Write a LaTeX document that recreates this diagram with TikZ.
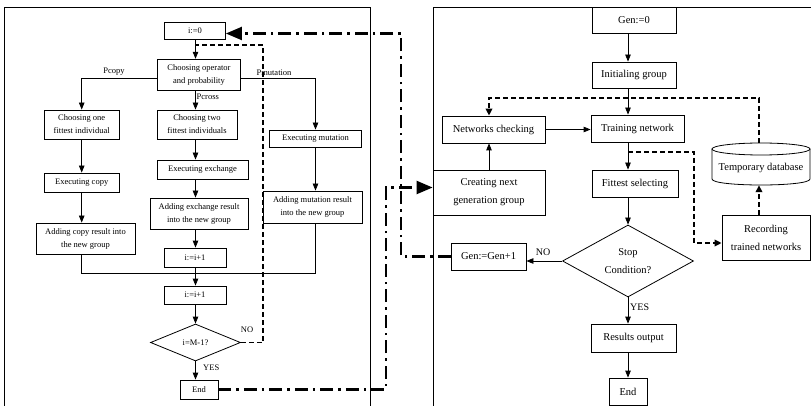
\documentclass[tikz,border=0pt]{standalone}
\usepackage{fontspec}
\setmainfont{Liberation Serif}
\usetikzlibrary{arrows.meta,shapes.geometric}

\begin{document}
\begin{tikzpicture}[x=1pt,y=-1pt,
  every node/.style={inner sep=0pt},
  lbox/.style={draw, line width=0.8pt, align=center, font=\fontsize{8.5}{13}\selectfont},
  rbox/.style={draw, line width=0.8pt, align=center, font=\fontsize{10.5}{18}\selectfont},
  lbl/.style={font=\fontsize{8.5}{10}\selectfont},
  rlbl/.style={font=\fontsize{10}{12}\selectfont},
  flow/.style={line width=0.8pt, -{Triangle[length=7pt,width=5.5pt]}},
  link/.style={line width=0.8pt},
  loopback/.style={line width=1.8pt, dash pattern=on 5pt off 3pt},
  loopbackarrow/.style={loopback, -{Triangle[length=7pt,width=6.5pt]}},
  jump/.style={line width=2.2pt, dash pattern=on 13pt off 5pt on 2.5pt off 5pt,
               -{Triangle[length=16pt,width=13pt]}},
]
\useasboundingbox (0,0) rectangle (811,406);

% panel frames (open at the bottom)
\draw[link] (4,406) -- (4,7) -- (370,7) -- (370,406);
\draw[link] (433,406) -- (433,7) -- (811,7);

% ---------- left panel: genetic operators ----------
\coordinate (lsp) at (195.5,0);
\coordinate (merge) at (0,273);

\node[lbox, minimum width=61pt, minimum height=17pt] (i0) at (195,30.5) {i:=0};
\node[lbox, minimum width=83pt, minimum height=31pt] (op) at (199,74.7) {Choosing operator\\and probability};
\node[lbox, minimum width=75pt, minimum height=29pt] (one) at (81.7,124.5) {Choosing one\\fittest individual};
\node[lbox, minimum width=80pt, minimum height=29pt] (two) at (197,124.5) {Choosing two\\fittest individuals};
\node[lbox, minimum width=92pt, minimum height=17pt] (mut) at (315.5,138.5) {Executing mutation};
\node[lbox, minimum width=75pt, minimum height=19pt] (copy) at (81.7,182.5) {Executing copy};
\node[lbox, minimum width=91pt, minimum height=19pt] (exch) at (202.5,169.5) {Executing exchange};
\node[lbox, minimum width=98pt, minimum height=31pt] (addex) at (199,213.5) {Adding exchange result\\into the new group};
\node[lbox, minimum width=99pt, minimum height=32pt] (addmut) at (312.5,207) {Adding mutation result\\into the new group};
\node[lbox, minimum width=99pt, minimum height=31pt] (addcopy) at (85.5,238.5) {Adding copy result into\\the new group};
\node[lbox, minimum width=62pt, minimum height=19pt] (inc1) at (195,257.5) {i:=i+1};
\node[lbox, minimum width=62pt, minimum height=18pt] (inc2) at (195,295) {i:=i+1};
\node[lbox, diamond, minimum width=90pt, minimum height=37pt, aspect=2.4] (dia) at (195.5,342.5) {i=M-1?};
\node[lbox, minimum width=38pt, minimum height=19pt] (end) at (199,389.5) {End};

\node[lbl] (pcopy) at (114,72) {Pcopy};
\node[lbl, anchor=west] (pcross) at (196.5,97) {Pcross};
\node[lbl] (pmut) at (274,73) {Pmutation};
\node[lbl] (lno) at (247,330) {NO};
\node[lbl, anchor=west] (lyes) at (203,368) {YES};

\draw[flow] (i0.south -| lsp) -- (op.north -| lsp);
\draw[flow] (op.south -| lsp) -- (two.north -| lsp);
\draw[flow] ([yshift=-4pt]op.west) -| (one.north);
\draw[flow] ([yshift=-4pt]op.east) -| (mut.north);
\draw[flow] (one) -- (copy);
\draw[flow] (copy.south) -- (copy.south |- addcopy.north);
\draw[flow] (two.south -| lsp) -- (exch.north -| lsp);
\draw[flow] (exch.south -| lsp) -- (addex.north -| lsp);
\draw[flow] (addex.south -| lsp) -- (inc1.north -| lsp);
\draw[flow] (mut.south) -- (mut.south |- addmut.north);
\draw[link] (addcopy.south -| copy.south) -- (copy.south |- merge) -- (mut.south |- merge) -- (addmut.south -| mut.south);
\draw[flow] (inc1.south -| lsp) -- (inc2.north -| lsp);
\draw[flow] (inc2.south -| lsp) -- (dia.north);
\draw[flow] (dia.south) -- (end.north -| dia.south);

% repeat loop back to the operator choice
\coordinate (noA) at (263,342.5);
\coordinate (noB) at (263,45);
\coordinate (noC) at (195.5,45);
\draw[loopback] (dia.east) -- (noA) -- (noB) -- (noC);

% ---------- right panel: network evolution ----------
\coordinate (rsp) at (628,0);

\node[rbox, minimum width=84pt, minimum height=26pt] (gen0) at (634,20.3) {Gen:=0};
\node[rbox, minimum width=84pt, minimum height=26pt] (init) at (634,75) {Initialing group};
\node[rbox, minimum width=103pt, minimum height=27pt] (check) at (493.5,129.5) {Networks checking};
\node[rbox, minimum width=93pt, minimum height=27pt] (train) at (637.5,128.5) {Training network};
\node[rbox, minimum width=86pt, minimum height=27pt] (fit) at (635,183.5) {Fittest selecting};
\node[rbox, minimum width=112pt, minimum height=45pt] (create) at (489,192.5) {Creating next\\generation group};
\node[minimum width=98pt, minimum height=42pt] (db) at (761,164) {};
\node[rbox, draw=none] (dbtext) at (761,168) {Temporary database};
\node[rbox, minimum width=88pt, minimum height=45pt] (rec) at (766,237.5) {Recording\\trained networks};
\node[rbox, diamond, minimum width=131pt, minimum height=72pt, aspect=1.8] (stop) at (628,261) {Stop\\Condition?};
\node[rbox, minimum width=75pt, minimum height=27pt] (genp) at (488.5,256.5) {Gen:=Gen+1};
\node[rbox, minimum width=85pt, minimum height=28pt] (res) at (633.5,338) {Results output};
\node[rbox, minimum width=38pt, minimum height=27pt] (rend) at (628,391.5) {End};

\node[rlbl] (rno) at (543,252) {NO};
\node[rlbl, anchor=west] (ryes) at (630,307) {YES};

% database cylinder
\draw[link] (761,149) ellipse[x radius=49, y radius=6];
\draw[link] (712,149) -- (712,179) .. controls (712,187) and (810,187) .. (810,179) -- (810,149);

\draw[flow] (gen0.south -| rsp) -- (init.north -| rsp);
\draw[flow] (init.south -| rsp) -- (train.north -| rsp);
\draw[flow] (check.east) -- (train.west |- check.east);
\draw[flow] (train.south -| rsp) -- (fit.north -| rsp);
\draw[flow] (fit.south -| rsp) -- (stop.north);
\draw[flow] (stop.south) -- (res.north -| rsp);
\draw[flow] (res.south -| rsp) -- (rend.north);
\draw[flow] (stop.west) -- (genp.east |- stop.west);
\draw[flow] (create.north) -- (create.north |- check.south);

% storage of trained networks
\coordinate (dbA) at (759,98);
\coordinate (dbB) at (489,98);
\draw[loopbackarrow] (db.north -| dbA) -- (dbA) -- (dbB) -- (dbB |- check.north);
\coordinate (trA) at (628,152);
\coordinate (trB) at (694,152);
\coordinate (trC) at (694,243);
\draw[loopbackarrow] (trA) -- (trB) -- (trC) -- (rec.west |- trC);
\draw[loopbackarrow] (rec.north -| dbA) -- (db.south -| dbA);

% links between the two panels
\coordinate (jA) at (386,389.5);
\coordinate (jB) at (386,187.5);
\draw[jump] (end.east) -- (jA) -- (jB) -- (create.west |- jB);
\coordinate (kA) at (401,256.5);
\coordinate (kB) at (401,33.5);
\draw[jump] (genp.west) -- (kA) -- (kB) -- (i0.east |- kB);
\end{tikzpicture}
\end{document}
